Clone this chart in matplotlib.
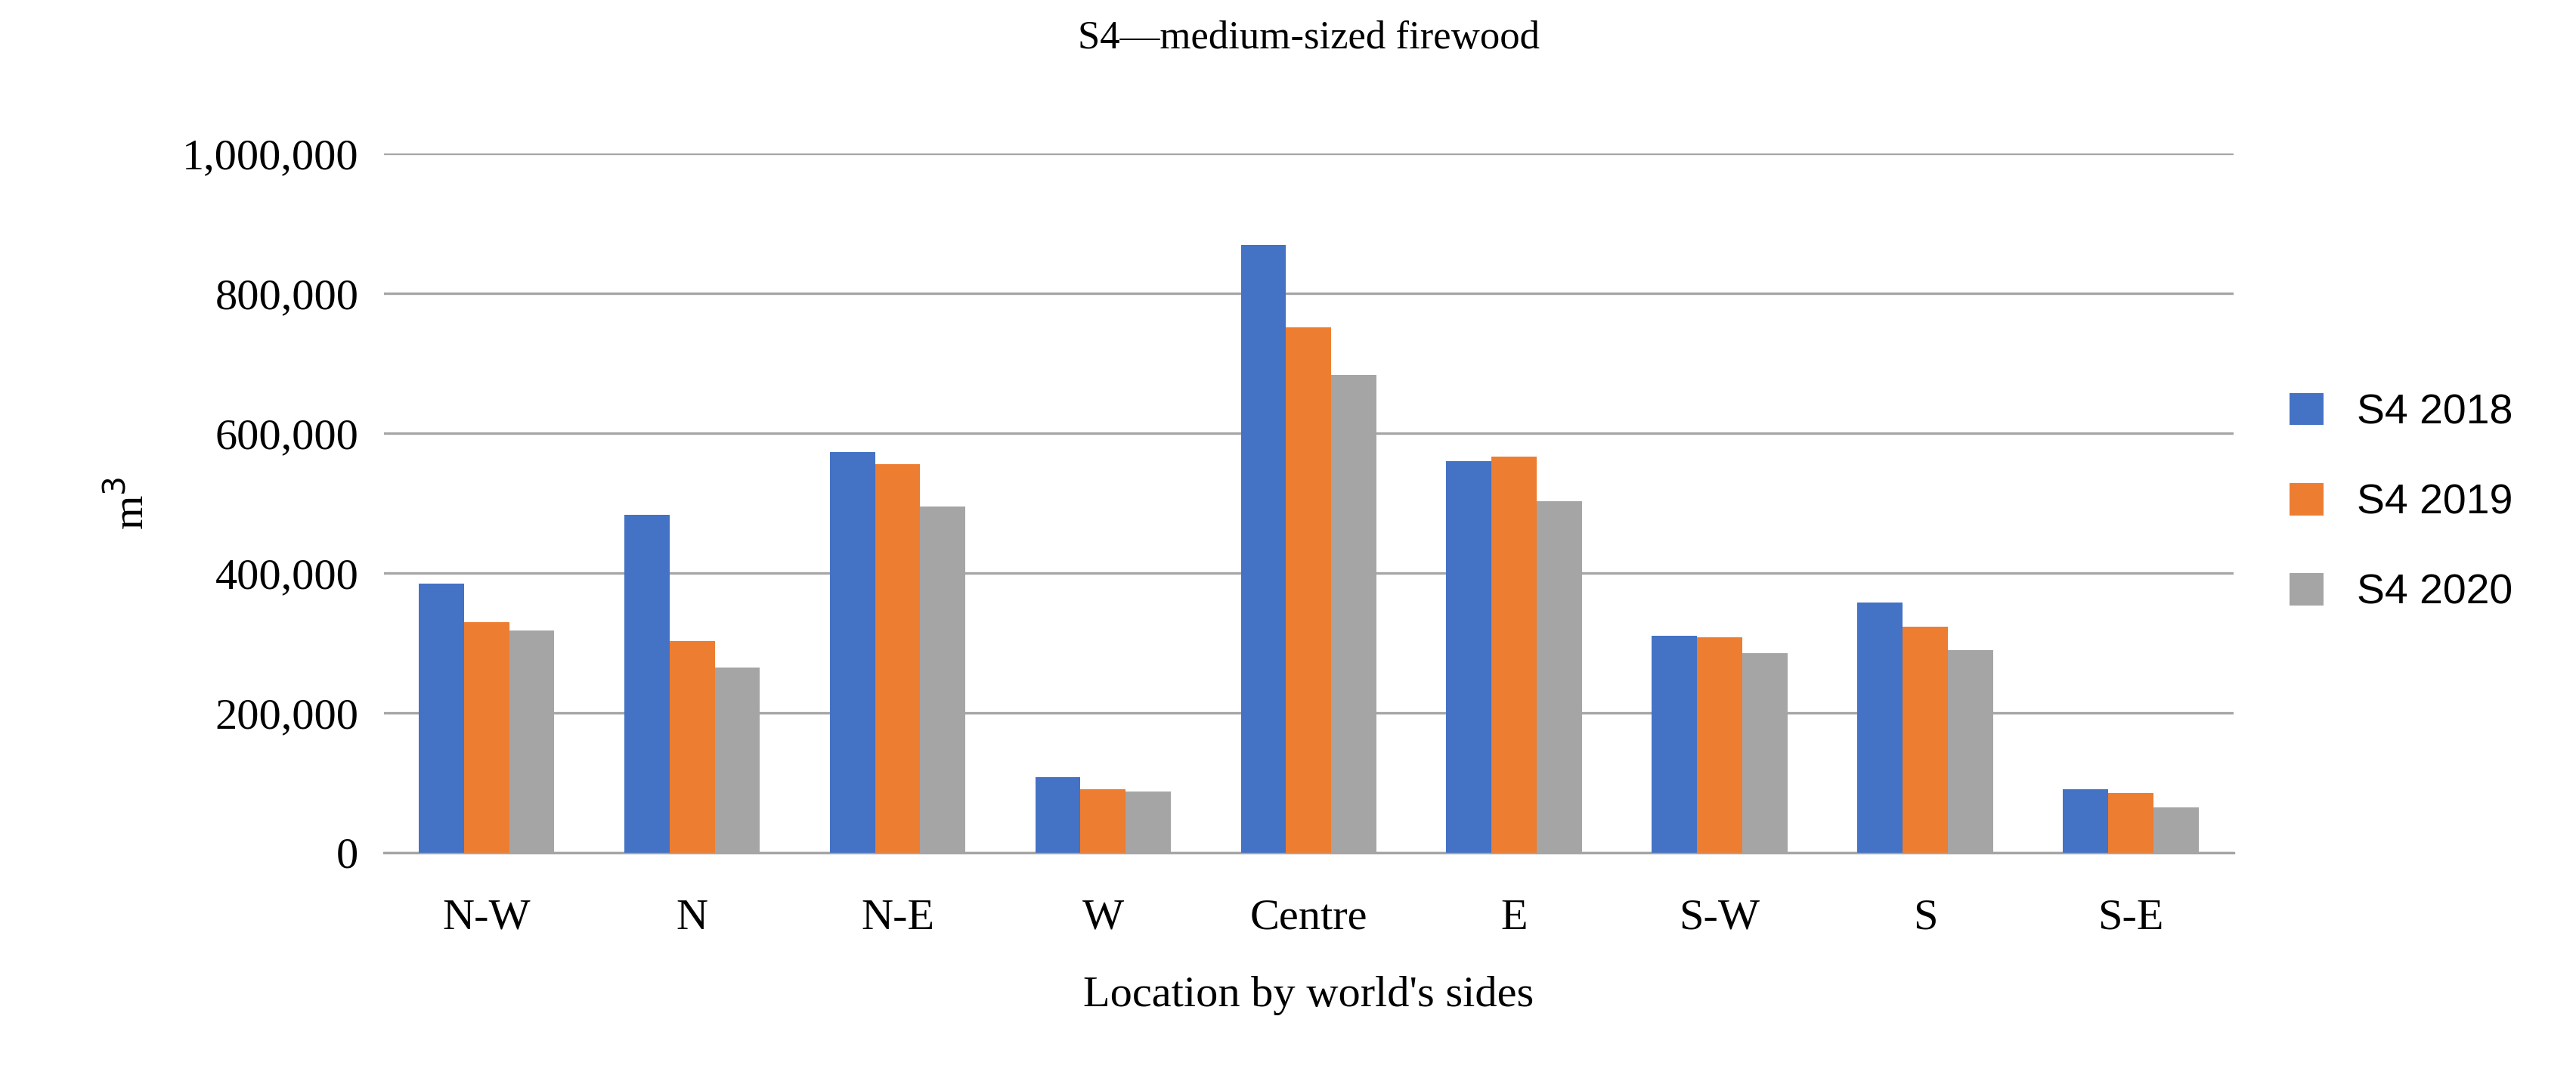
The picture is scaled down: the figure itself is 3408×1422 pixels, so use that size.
import numpy as np
from matplotlib import pyplot as plt
from matplotlib.ticker import FuncFormatter

categories = ["N-W", "N", "N-E", "W", "Centre", "E", "S-W", "S", "S-E"]
s4_2018 = [385000, 483000, 573000, 108000, 870000, 560000, 310000, 358000, 90000]
s4_2019 = [330000, 303000, 556000, 90000, 752000, 566000, 308000, 323000, 85000]
s4_2020 = [318000, 265000, 495000, 87000, 683000, 503000, 285000, 290000, 65000]
series = [("S4 2018", s4_2018, "#4472C4"), ("S4 2019", s4_2019, "#ED7D31"), ("S4 2020", s4_2020, "#A5A5A5")]

plt.rcParams["font.family"] = ["Liberation Serif", "DejaVu Serif"]
fig = plt.figure(figsize=(17.04, 7.11), dpi=200)
ax = fig.add_axes([0.149, 0.207, 0.718, 0.65])

x = np.arange(len(categories))
w = 0.22
for i, (name, vals, col) in enumerate(series):
    ax.bar(x + (i - 1) * w, vals, w, color=col, label=name, zorder=3)

ax.set_xlim(-0.5, len(categories) - 0.5)
ax.set_ylim(0, 1000000)
ax.set_yticks(np.arange(0, 1000001, 200000))
ax.yaxis.set_major_formatter(FuncFormatter(lambda v, p: f"{int(v):,}"))
ax.grid(axis="y", color="#A6A6A6", linewidth=1.2, zorder=0)
for s in ["top", "right", "left"]:
    ax.spines[s].set_visible(False)
ax.spines["bottom"].set_color("#A6A6A6")
ax.spines["bottom"].set_linewidth(1.2)
ax.tick_params(axis="both", length=0, labelsize=21, pad=12)
ax.tick_params(axis="x", pad=22)
ax.set_xticks(x)
ax.set_xticklabels(categories)
ax.set_xlabel("Location by world's sides", fontsize=21, labelpad=18)
ax.set_ylabel("m$^3$", fontsize=21, labelpad=14)
ax.set_title("S4\u2014medium-sized firewood", fontsize=19, pad=50)

ax.legend(loc="center left", bbox_to_anchor=(1.01, 0.5), frameon=False,
          prop={"family": ["Liberation Sans", "DejaVu Sans"], "size": 20},
          handlelength=0.8, handleheight=0.8, labelspacing=1.2)

fig.savefig("out.png")
